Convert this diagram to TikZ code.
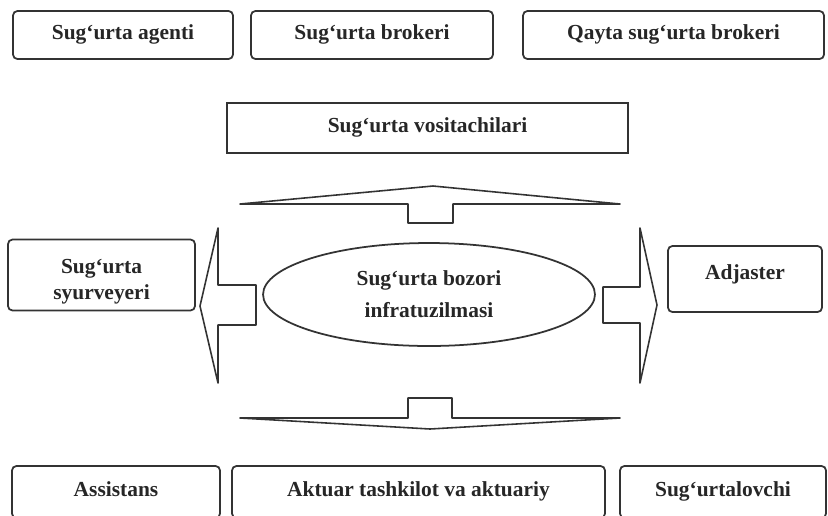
\documentclass[tikz,border=0pt]{standalone}
\usepackage{fontspec}
\setmainfont{Liberation Serif}
\usetikzlibrary{shapes.geometric}

\begin{document}
\begin{tikzpicture}[x=0.02cm, y=-0.02cm,
    every node/.style={font=\bfseries\fontsize{12.2}{15.2}\selectfont, text=black!85},
    infobox/.style={draw=black!80, line width=1pt, rounded corners=2.5pt, minimum height=0.96cm},
    oneline/.style={text height=0.72em, text depth=0.25em},
    blockarrow/.style={draw=black!80, line width=0.9pt, line join=round}]
    \useasboundingbox (0,0) rectangle (828,515);

    % Top row
    \node[infobox, oneline, minimum width=4.4cm] (agent) at (123,35) {Sug‘urta agenti};
    \node[infobox, oneline, minimum width=4.84cm] (broker) at (372,35) {Sug‘urta brokeri};
    \node[infobox, oneline, minimum width=6.02cm] (qayta) at (673.5,35) {Qayta sug‘urta brokeri};

    % Intermediaries
    \node[draw=black!80, line width=1pt, oneline, minimum width=8.02cm, minimum height=1cm] (vosit) at (427.5,128) {Sug‘urta vositachilari};

    % Upper arrow
    \draw[blockarrow] (240,204) -- (433,186) -- (620,204) -- (453,204) -- (453,223) -- (408,223) -- (408,204) -- cycle;

    % Middle row
    \node[draw=black!80, line width=1pt, ellipse, minimum width=6.64cm, minimum height=2.06cm, align=center] (bozor) at (429,294.5) {Sug‘urta bozori\\[3pt]infratuzilmasi};
    \node[infobox, minimum width=3.74cm, minimum height=1.4cm, align=center] (syurv) at (101.5,275) {\rule{0pt}{1.3em}Sug‘urta\\syurveyeri};
    \node[infobox, minimum width=3.08cm, minimum height=1.32cm, text height=0.72em, text depth=0.68em] (adj) at (745,279) {Adjaster};

    % Left arrow
    \draw[blockarrow] (200,306) -- (218,228) -- (218,285) -- (256,285) -- (256,325) -- (218,325) -- (218,383) -- cycle;
    % Right arrow
    \draw[blockarrow] (657,305) -- (640,228) -- (640,287) -- (603,287) -- (603,323) -- (640,323) -- (640,383) -- cycle;

    % Lower arrow
    \draw[blockarrow] (240,418) -- (408,418) -- (408,398) -- (452,398) -- (452,418) -- (620,418) -- (430,429) -- cycle;

    % Bottom row
    \node[infobox, oneline, minimum width=4.16cm, minimum height=1.04cm] (assist) at (116,492) {Assistans};
    \node[infobox, oneline, minimum width=7.46cm, minimum height=1.04cm] (aktuar) at (418.5,492) {Aktuar tashkilot va aktuariy};
    \node[infobox, oneline, minimum width=4.12cm, minimum height=1.04cm] (sugurt) at (723,492) {Sug‘urtalovchi};
\end{tikzpicture}
\end{document}
